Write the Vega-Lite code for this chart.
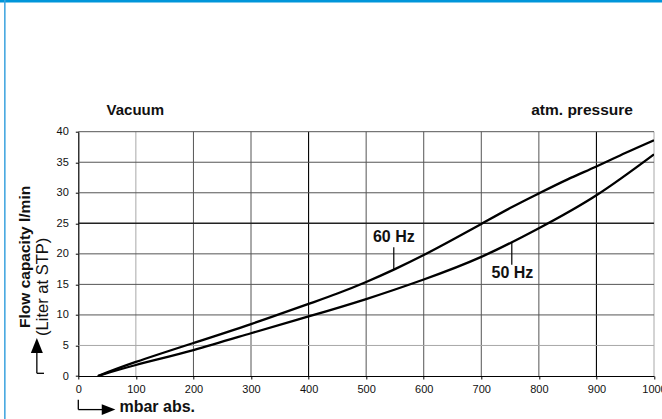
{
  "$schema": "https://vega.github.io/schema/vega-lite/v6.json",
  "width": 575.7,
  "height": 244.3,
  "autosize": {"type": "none"},
  "padding": {"left": 78.3, "top": 131.7, "right": 8, "bottom": 43},
  "background": "white",
  "config": {
    "view": {"stroke": null},
    "font": "Liberation Sans",
    "numberFormat": "d",
    "text": {"font": "Liberation Sans", "color": "#111"},
    "axis": {
      "grid": false,
      "domainColor": "#000",
      "domainWidth": 1.2,
      "tickColor": "#000",
      "tickSize": 3,
      "labelFont": "Liberation Sans",
      "labelFontSize": 11,
      "labelColor": "#111",
      "labelFlush": false,
      "labelOverlap": false
    },
    "axisX": {"tickCount": 10, "labelPadding": 4},
    "axisY": {"tickCount": 8, "labelPadding": 7}
  },
  "data": {"values": [{}]},
  "datasets": {
    "flow": [
      {"freq": "60 Hz", "mbar": 34, "flow": 0},
      {"freq": "60 Hz", "mbar": 100, "flow": 2.3},
      {"freq": "60 Hz", "mbar": 200, "flow": 5.4},
      {"freq": "60 Hz", "mbar": 300, "flow": 8.5},
      {"freq": "60 Hz", "mbar": 400, "flow": 11.8},
      {"freq": "60 Hz", "mbar": 450, "flow": 13.5},
      {"freq": "60 Hz", "mbar": 500, "flow": 15.4},
      {"freq": "60 Hz", "mbar": 550, "flow": 17.5},
      {"freq": "60 Hz", "mbar": 600, "flow": 19.8},
      {"freq": "60 Hz", "mbar": 650, "flow": 22.3},
      {"freq": "60 Hz", "mbar": 700, "flow": 24.9},
      {"freq": "60 Hz", "mbar": 750, "flow": 27.5},
      {"freq": "60 Hz", "mbar": 800, "flow": 29.9},
      {"freq": "60 Hz", "mbar": 850, "flow": 32.2},
      {"freq": "60 Hz", "mbar": 900, "flow": 34.3},
      {"freq": "60 Hz", "mbar": 950, "flow": 36.5},
      {"freq": "60 Hz", "mbar": 1000, "flow": 38.6},
      {"freq": "50 Hz", "mbar": 34, "flow": 0},
      {"freq": "50 Hz", "mbar": 100, "flow": 1.8},
      {"freq": "50 Hz", "mbar": 200, "flow": 4.25},
      {"freq": "50 Hz", "mbar": 300, "flow": 7.0},
      {"freq": "50 Hz", "mbar": 400, "flow": 9.75},
      {"freq": "50 Hz", "mbar": 500, "flow": 12.6},
      {"freq": "50 Hz", "mbar": 600, "flow": 15.8},
      {"freq": "50 Hz", "mbar": 700, "flow": 19.5},
      {"freq": "50 Hz", "mbar": 800, "flow": 24.2},
      {"freq": "50 Hz", "mbar": 900, "flow": 29.6},
      {"freq": "50 Hz", "mbar": 1000, "flow": 36.3}
    ],
    "gridX": [{"mbar": 200}, {"mbar": 300}, {"mbar": 500}, {"mbar": 600}, {"mbar": 700}, {"mbar": 800}],
    "gridXLight": [{"mbar": 100}, {"mbar": 1000}],
    "gridXBold": [{"mbar": 400}, {"mbar": 900}],
    "gridY": [{"flow": 10}, {"flow": 15}, {"flow": 20}, {"flow": 30}, {"flow": 35}, {"flow": 40}],
    "gridYLight": [{"flow": 5}],
    "gridYBold": [{"flow": 25}]
  },
  "layer": [
    {
      "mark": {"type": "rect", "color": "#0096da"},
      "encoding": {
        "x": {"datum": -200, "type": "quantitative", "scale": {"domain": [0, 1000], "nice": false}},
        "x2": {"datum": 1200},
        "y": {"datum": 61.15, "type": "quantitative", "scale": {"domain": [0, 40], "nice": false}},
        "y2": {"datum": 75}
      }
    },
    {
      "mark": {"type": "rule", "color": "#3aa2de", "strokeWidth": 1.5},
      "encoding": {
        "x": {"datum": -127.6, "type": "quantitative", "scale": {"domain": [0, 1000], "nice": false}},
        "y": {"datum": -20, "type": "quantitative", "scale": {"domain": [0, 40], "nice": false}},
        "y2": {"datum": 75}
      }
    },
    {
      "data": {"name": "gridX"},
      "mark": {"type": "rule", "color": "#555", "strokeWidth": 1},
      "encoding": {"x": {"field": "mbar", "type": "quantitative", "scale": {"domain": [0, 1000], "nice": false}, "axis": {"title": null}}}
    },
    {
      "data": {"name": "gridXLight"},
      "mark": {"type": "rule", "color": "#a8a8a8", "strokeWidth": 1},
      "encoding": {"x": {"field": "mbar", "type": "quantitative", "scale": {"domain": [0, 1000], "nice": false}, "axis": {"title": null}}}
    },
    {
      "data": {"name": "gridXBold"},
      "mark": {"type": "rule", "color": "#000", "strokeWidth": 1.1},
      "encoding": {"x": {"field": "mbar", "type": "quantitative", "scale": {"domain": [0, 1000], "nice": false}, "axis": {"title": null}}}
    },
    {
      "data": {"name": "gridY"},
      "mark": {"type": "rule", "color": "#555", "strokeWidth": 1},
      "encoding": {"y": {"field": "flow", "type": "quantitative", "scale": {"domain": [0, 40], "nice": false}, "axis": {"title": null}}}
    },
    {
      "data": {"name": "gridYLight"},
      "mark": {"type": "rule", "color": "#a8a8a8", "strokeWidth": 1},
      "encoding": {"y": {"field": "flow", "type": "quantitative", "scale": {"domain": [0, 40], "nice": false}, "axis": {"title": null}}}
    },
    {
      "data": {"name": "gridYBold"},
      "mark": {"type": "rule", "color": "#222", "strokeWidth": 1.6},
      "encoding": {"y": {"field": "flow", "type": "quantitative", "scale": {"domain": [0, 40], "nice": false}, "axis": {"title": null}}}
    },
    {
      "data": {"name": "flow"},
      "mark": {"type": "line", "color": "#000", "strokeWidth": 2.3, "interpolate": "natural", "clip": true},
      "encoding": {
        "x": {"field": "mbar", "type": "quantitative", "scale": {"domain": [0, 1000], "nice": false}, "axis": {"title": null}},
        "y": {"field": "flow", "type": "quantitative", "scale": {"domain": [0, 40], "nice": false}, "axis": {"title": null}},
        "detail": {"field": "freq"}
      }
    },
    {
      "mark": {"type": "rule", "color": "#000", "strokeWidth": 1.2},
      "encoding": {
        "x": {"datum": 548, "type": "quantitative", "scale": {"domain": [0, 1000], "nice": false}},
        "y": {"datum": 21.1, "type": "quantitative", "scale": {"domain": [0, 40], "nice": false}},
        "y2": {"datum": 17.4}
      }
    },
    {
      "mark": {"type": "rule", "color": "#000", "strokeWidth": 1.2},
      "encoding": {
        "x": {"datum": 753, "type": "quantitative", "scale": {"domain": [0, 1000], "nice": false}},
        "y": {"datum": 22.0, "type": "quantitative", "scale": {"domain": [0, 40], "nice": false}},
        "y2": {"datum": 18.2}
      }
    },
    {
      "mark": {"type": "text", "fontWeight": "bold", "fontSize": 16, "align": "center", "baseline": "middle"},
      "encoding": {
        "x": {"datum": 548, "type": "quantitative", "scale": {"domain": [0, 1000], "nice": false}},
        "y": {"datum": 22.7, "type": "quantitative", "scale": {"domain": [0, 40], "nice": false}},
        "text": {"value": "60 Hz"}
      }
    },
    {
      "mark": {"type": "text", "fontWeight": "bold", "fontSize": 16, "align": "center", "baseline": "middle"},
      "encoding": {
        "x": {"datum": 754, "type": "quantitative", "scale": {"domain": [0, 1000], "nice": false}},
        "y": {"datum": 16.85, "type": "quantitative", "scale": {"domain": [0, 40], "nice": false}},
        "text": {"value": "50 Hz"}
      }
    },
    {
      "mark": {"type": "text", "fontWeight": "bold", "fontSize": 15, "align": "center", "baseline": "middle"},
      "encoding": {
        "x": {"datum": 99, "type": "quantitative", "scale": {"domain": [0, 1000], "nice": false}},
        "y": {"datum": 43.5, "type": "quantitative", "scale": {"domain": [0, 40], "nice": false}},
        "text": {"value": "Vacuum"}
      }
    },
    {
      "mark": {"type": "text", "fontWeight": "bold", "fontSize": 15.5, "align": "center", "baseline": "middle"},
      "encoding": {
        "x": {"datum": 875, "type": "quantitative", "scale": {"domain": [0, 1000], "nice": false}},
        "y": {"datum": 43.5, "type": "quantitative", "scale": {"domain": [0, 40], "nice": false}},
        "text": {"value": "atm. pressure"}
      }
    },
    {
      "mark": {"type": "text", "fontWeight": "bold", "fontSize": 15.5, "angle": 270, "align": "center", "baseline": "middle"},
      "encoding": {
        "x": {"datum": -92.6, "type": "quantitative", "scale": {"domain": [0, 1000], "nice": false}},
        "y": {"datum": 19.5, "type": "quantitative", "scale": {"domain": [0, 40], "nice": false}},
        "text": {"value": "Flow capacity l/min"}
      }
    },
    {
      "mark": {"type": "text", "fontSize": 16.5, "angle": 270, "align": "center", "baseline": "middle"},
      "encoding": {
        "x": {"datum": -61.5, "type": "quantitative", "scale": {"domain": [0, 1000], "nice": false}},
        "y": {"datum": 14.6, "type": "quantitative", "scale": {"domain": [0, 40], "nice": false}},
        "text": {"value": "(Liter at STP)"}
      }
    },
    {
      "mark": {"type": "rule", "color": "#000", "strokeWidth": 1.3},
      "encoding": {
        "x": {"datum": -72, "type": "quantitative", "scale": {"domain": [0, 1000], "nice": false}},
        "y": {"datum": 0.44, "type": "quantitative", "scale": {"domain": [0, 40], "nice": false}},
        "y2": {"datum": 4.0}
      }
    },
    {
      "mark": {"type": "rule", "color": "#000", "strokeWidth": 1.3},
      "encoding": {
        "x": {"datum": -72, "type": "quantitative", "scale": {"domain": [0, 1000], "nice": false}},
        "x2": {"datum": -59.6},
        "y": {"datum": 0.44, "type": "quantitative", "scale": {"domain": [0, 40], "nice": false}}
      }
    },
    {
      "mark": {"type": "point", "shape": "M0,-1L-0.8,1L0.8,1Z", "filled": true, "color": "#000", "opacity": 1, "size": 225},
      "encoding": {
        "x": {"datum": -72, "type": "quantitative", "scale": {"domain": [0, 1000], "nice": false}},
        "y": {"datum": 5.0, "type": "quantitative", "scale": {"domain": [0, 40], "nice": false}}
      }
    },
    {
      "mark": {"type": "rule", "color": "#000", "strokeWidth": 1.3},
      "encoding": {
        "x": {"datum": 0, "type": "quantitative", "scale": {"domain": [0, 1000], "nice": false}},
        "y": {"datum": -3.9, "type": "quantitative", "scale": {"domain": [0, 40], "nice": false}},
        "y2": {"datum": -5.5}
      }
    },
    {
      "mark": {"type": "rule", "color": "#000", "strokeWidth": 1.3},
      "encoding": {
        "x": {"datum": 0, "type": "quantitative", "scale": {"domain": [0, 1000], "nice": false}},
        "x2": {"datum": 45},
        "y": {"datum": -5.5, "type": "quantitative", "scale": {"domain": [0, 40], "nice": false}}
      }
    },
    {
      "mark": {"type": "point", "shape": "M1,0L-1,-0.8L-1,0.8Z", "filled": true, "color": "#000", "opacity": 1, "size": 185},
      "encoding": {
        "x": {"datum": 52.6, "type": "quantitative", "scale": {"domain": [0, 1000], "nice": false}},
        "y": {"datum": -5.5, "type": "quantitative", "scale": {"domain": [0, 40], "nice": false}}
      }
    },
    {
      "mark": {"type": "text", "fontWeight": "bold", "fontSize": 16, "align": "left", "baseline": "middle"},
      "encoding": {
        "x": {"datum": 71.5, "type": "quantitative", "scale": {"domain": [0, 1000], "nice": false}},
        "y": {"datum": -5.0, "type": "quantitative", "scale": {"domain": [0, 40], "nice": false}},
        "text": {"value": "mbar abs."}
      }
    }
  ]
}
